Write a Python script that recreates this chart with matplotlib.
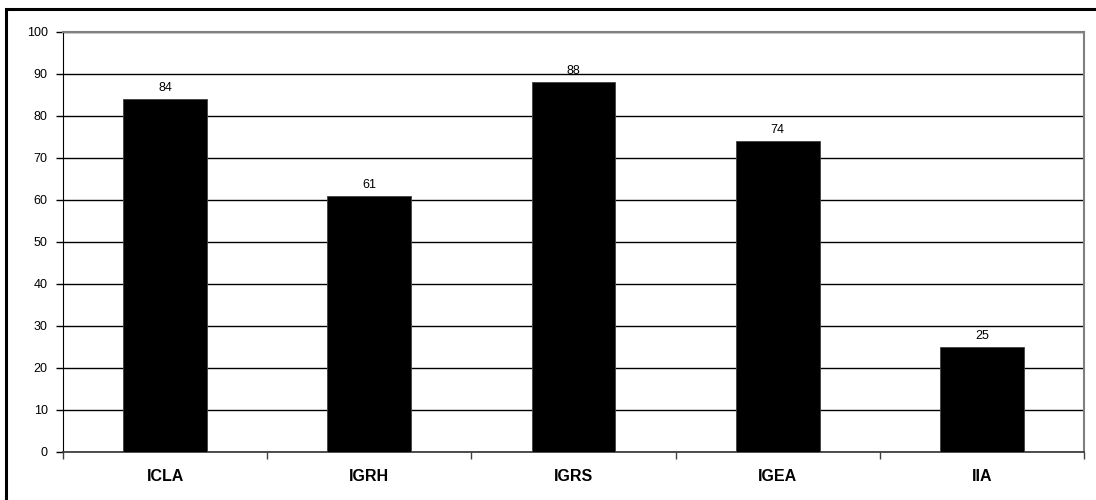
import matplotlib
matplotlib.use("Agg")
import matplotlib.pyplot as plt
from matplotlib.patches import Rectangle
import numpy as np

plt.rcParams.update({
    "font.family": ["Liberation Sans", "DejaVu Sans"],
})

categories = ["ICLA", "IGRH", "IGRS", "IGEA", "IIA"]
values = [84, 61, 88, 74, 25]
y_ticks = list(range(0, 101, 10))

fig = plt.figure(figsize=(10.96, 5.0), dpi=100)

# outer chart frame, only left and top edges fall inside the image
fig.patches.append(Rectangle((6 / 1096, -0.1), 1.2, 1 - 9 / 500 + 0.1,
                             transform=fig.transFigure, fill=False,
                             edgecolor="black", linewidth=2.2))

ax = fig.add_axes([63 / 1096, 48 / 500, (1084 - 63) / 1096, (452 - 32) / 500])

x = np.arange(len(categories))
ax.bar(x, values, width=0.41, color="black", edgecolor="#404040",
       linewidth=0.6, zorder=3)

for xi, v in zip(x, values):
    ax.text(xi, v + 1.2, str(v), ha="center", va="bottom", fontsize=9)

ax.set_xlim(-0.5, len(categories) - 0.5)
ax.set_ylim(0, 100)
ax.set_yticks(y_ticks)
ax.tick_params(axis="y", direction="out", length=5, width=1, labelsize=9, pad=6)

# category labels centered, tick marks between categories
ax.set_xticks(x)
ax.set_xticklabels(categories, fontsize=11.5, fontweight="bold")
ax.tick_params(axis="x", which="major", length=0, pad=12)
ax.set_xticks(np.arange(-0.5, len(categories)), minor=True)
ax.tick_params(axis="x", which="minor", direction="out", length=5, width=1,
               color="#404040")

ax.yaxis.grid(True, color="black", linewidth=1, zorder=0)
ax.set_axisbelow(True)

ax.spines["left"].set_color("black")
ax.spines["bottom"].set_color("#404040")
ax.spines["bottom"].set_linewidth(1.3)
ax.spines["top"].set_color("#808080")
ax.spines["right"].set_color("#808080")
ax.spines["right"].set_linewidth(1.5)
ax.spines["top"].set_linewidth(1.5)

fig.savefig("out.png", dpi=100)
